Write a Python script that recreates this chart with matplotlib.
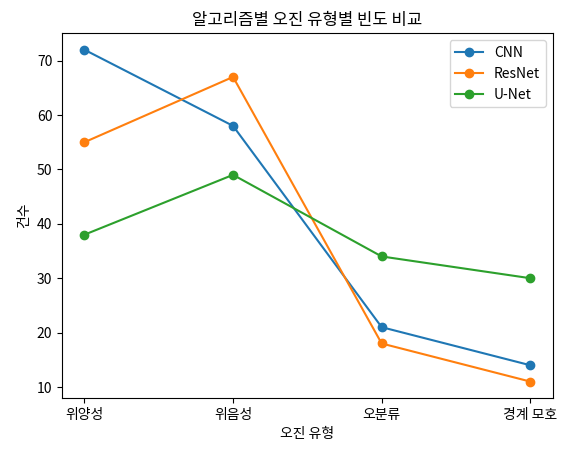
import matplotlib
matplotlib.use('Agg')
import matplotlib.pyplot as plt

plt.rcParams['font.family'] = ['Noto Sans CJK KR', 'DejaVu Sans']

categories = ['위양성', '위음성', '오분류', '경계 모호']
cnn = [72, 58, 21, 14]
resnet = [55, 67, 18, 11]
unet = [38, 49, 34, 30]

fig, ax = plt.subplots(figsize=(5.65, 4.54), dpi=100)
fig.subplots_adjust(left=0.11, right=0.978, top=0.927, bottom=0.123)

ax.plot(categories, cnn, marker='o', label='CNN')
ax.plot(categories, resnet, marker='o', label='ResNet')
ax.plot(categories, unet, marker='o', label='U-Net')

ax.set_title('알고리즘별 오진 유형별 빈도 비교')
ax.set_xlabel('오진 유형')
ax.set_ylabel('건수')
ax.legend()

fig.savefig('out.png')
